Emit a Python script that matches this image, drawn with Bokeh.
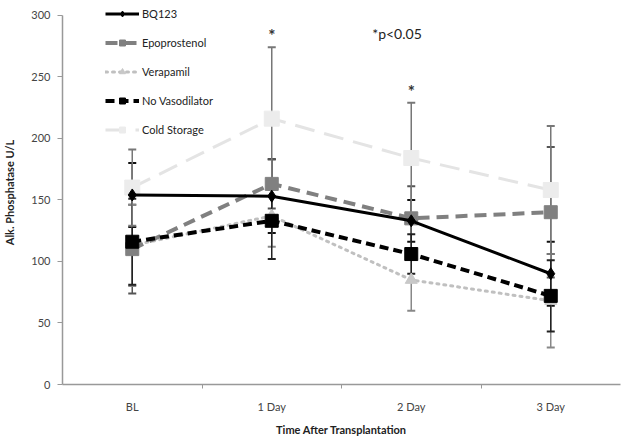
from bokeh.plotting import figure
from bokeh.models import FixedTicker, Legend, LegendItem, Label, ColumnDataSource, Whisker, TeeHead
from bokeh.core.properties import value
from bokeh.embed import file_html
from bokeh.resources import INLINE

categories = ["BL", "1 Day", "2 Day", "3 Day"]
bq123 = [154, 153, 133, 90]
bq123_err = [26, 30, 17, 26]
epoprostenol = [110, 163, 135, 140]
epoprostenol_err = [36, 20, 26, 53]
verapamil = [113, 137, 85, 68]
verapamil_err = [33, 25, 25, 38]
no_vasodilator = [116, 133, 106, 72]
no_vasodilator_err = [35, 31, 16, 29]
cold_storage = [160, 216, 184, 158]
cold_storage_err = [31, 58, 45, 52]
significant = ["1 Day", "2 Day"]
y_ticks = [0, 50, 100, 150, 200, 250, 300]

FONT = "Lato"
xs = list(range(len(categories)))

p = figure(width=622, height=438, output_backend="svg", toolbar_location=None,
           x_range=(-0.5, len(categories) - 0.5), y_range=(0, 312),
           min_border_left=57, min_border_right=2, min_border_top=0, min_border_bottom=48)
p.outline_line_color = None
p.grid.grid_line_color = None
p.background_fill_color = "white"

# axes
p.xaxis.ticker = FixedTicker(ticks=xs, minor_ticks=[i + 0.5 for i in xs[:-1]])
p.xaxis.major_label_overrides = {i: c for i, c in enumerate(categories)}
p.xaxis.major_tick_out = 0
p.xaxis.major_tick_in = 0
p.xaxis.minor_tick_out = 4
p.xaxis.minor_tick_in = 0
p.xaxis.minor_tick_line_color = "#999999"
p.yaxis.ticker = FixedTicker(ticks=y_ticks)
p.yaxis.bounds = (y_ticks[0], y_ticks[-1])
p.yaxis.minor_tick_line_color = None
p.yaxis.major_tick_out = 5
p.yaxis.major_tick_in = 0
for ax in (p.xaxis, p.yaxis):
    ax.axis_line_color = "#999999"
    ax.axis_line_width = 1.5
    ax.major_tick_line_color = "#999999"
    ax.major_label_text_font = FONT
    ax.major_label_text_font_size = "11px"
    ax.major_label_text_color = "#444444"
    ax.axis_label_text_font = FONT
    ax.axis_label_text_font_size = "11px"
    ax.axis_label_text_font_style = "bold"
    ax.axis_label_text_color = "#222222"
p.xaxis.major_label_standoff = 11
p.yaxis.major_label_standoff = 7
p.xaxis.axis_label = "Time After Transplantation"
p.yaxis.axis_label = "Alk. Phosphatase U/L"
p.xaxis.axis_label_standoff = 7
p.yaxis.axis_label_standoff = 12

series = [
    ("BQ123", bq123, bq123_err, "black", "#111111", None, 3, "diamond", 12, "black"),
    ("Epoprostenol", epoprostenol, epoprostenol_err, "#808080", "#555555", "12 7", 4, "square", 13, "#808080"),
    ("Verapamil", verapamil, verapamil_err, "#c0c0c0", "#888888", "2 5", 3, "triangle", 12, "#c8c8c8"),
    ("No Vasodilator", no_vasodilator, no_vasodilator_err, "black", "#222222", "9 5", 4, "square", 13, "black"),
    ("Cold Storage", cold_storage, cold_storage_err, "#e4e4e4", "#777777", "20 10", 3, "square", 15, "#ececec"),
]

# error bars
for name, vals, errs, color, ecolor, dash, lw, marker, msize, mcolor in series:
    src = ColumnDataSource(dict(x=xs, upper=[v + e for v, e in zip(vals, errs)],
                                lower=[v - e for v, e in zip(vals, errs)]))
    w = Whisker(source=src, base="x", upper="upper", lower="lower", dimension="height",
                line_color=ecolor, line_width=1.5,
                upper_head=TeeHead(size=8, line_color=ecolor, line_width=2),
                lower_head=TeeHead(size=8, line_color=ecolor, line_width=2))
    p.add_layout(w)

draw_order = [4, 2, 1, 3, 0]
renderers = {}
for i in draw_order:
    name, vals, errs, color, ecolor, dash, lw, marker, msize, mcolor = series[i]
    kw = {}
    if dash:
        kw["line_dash"] = dash
    l = p.line(xs, vals, line_color=color, line_width=lw, line_cap="round" if dash == "2 5" else "butt", **kw)
    m = p.scatter(xs, vals, marker=marker, size=msize, fill_color=mcolor, line_color=mcolor)
    renderers[i] = [l, m]
items = [LegendItem(label=s[0], renderers=renderers[i]) for i, s in enumerate(series)]

legend = Legend(items=items, location=(43, 247), border_line_color=None,
                background_fill_alpha=0, padding=0, spacing=14, margin=0,
                glyph_width=34, glyph_height=15, label_height=15, label_standoff=3,
                label_text_font=FONT, label_text_font_size="11px", label_text_color="#222222")
p.add_layout(legend, "center")

# significance asterisks
sig_x = [categories.index(c) for c in significant]
sig_y = [cold_storage[i] + cold_storage_err[i] for i in sig_x]
p.text(sig_x, sig_y, text=["*"] * len(sig_x), text_align="center", text_baseline="bottom",
       y_offset=-1, text_font=value(FONT), text_font_size="17px", text_font_style="bold",
       text_color="#333333")
p.add_layout(Label(x=1.72, y=278, text="*p<0.05", text_font=FONT, text_font_size="14px",
                   text_color="#222222"))

open("out.html", "w").write(file_html(p, INLINE))
